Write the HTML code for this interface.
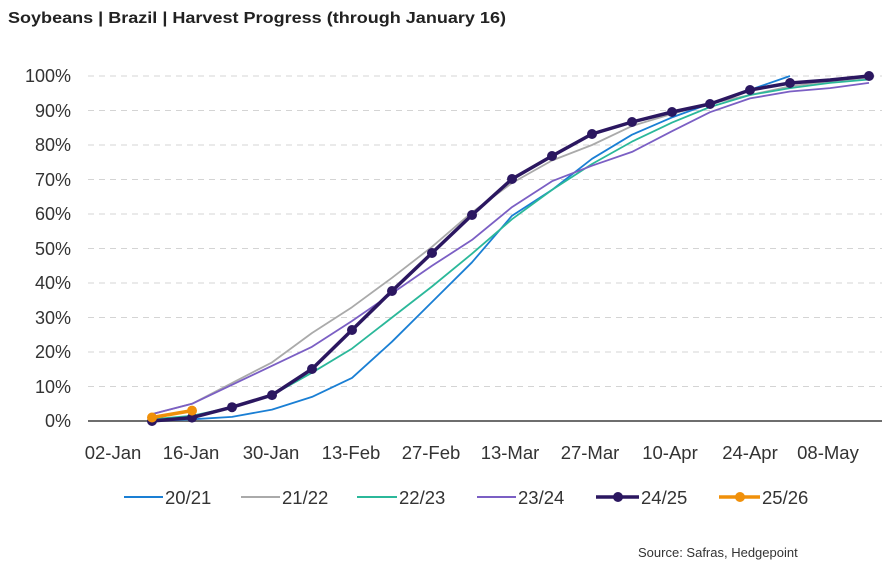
<!DOCTYPE html><html><head><style>body{margin:0;background:#fff}svg{display:block;font-family:"Liberation Sans",sans-serif}</style></head><body>
<svg width="882" height="572" viewBox="0 0 882 572">
<text x="8" y="23" font-size="15.5" font-weight="bold" fill="#222" textLength="498" lengthAdjust="spacingAndGlyphs">Soybeans | Brazil | Harvest Progress (through January 16)</text>
<g stroke="#d4d4d4" stroke-dasharray="6,5" stroke-width="1">
<line x1="88" x2="882" y1="76" y2="76"/><line x1="88" x2="882" y1="110.5" y2="110.5"/><line x1="88" x2="882" y1="145" y2="145"/><line x1="88" x2="882" y1="179.5" y2="179.5"/><line x1="88" x2="882" y1="214" y2="214"/><line x1="88" x2="882" y1="248.5" y2="248.5"/><line x1="88" x2="882" y1="283" y2="283"/><line x1="88" x2="882" y1="317.5" y2="317.5"/><line x1="88" x2="882" y1="352" y2="352"/><line x1="88" x2="882" y1="386.5" y2="386.5"/></g>
<line x1="88" x2="882" y1="421" y2="421" stroke="#6e6e6e" stroke-width="2"/>
<g font-size="18" fill="#333" text-anchor="end">
<text x="71" y="82">100%</text><text x="71" y="117">90%</text><text x="71" y="151">80%</text><text x="71" y="186">70%</text><text x="71" y="220">60%</text><text x="71" y="255">50%</text><text x="71" y="289">40%</text><text x="71" y="324">30%</text><text x="71" y="358">20%</text><text x="71" y="393">10%</text><text x="71" y="427">0%</text></g>
<g font-size="18.5" fill="#333" text-anchor="middle">
<text x="113" y="459">02-Jan</text><text x="191" y="459">16-Jan</text><text x="271" y="459">30-Jan</text><text x="351" y="459">13-Feb</text><text x="431" y="459">27-Feb</text><text x="510" y="459">13-Mar</text><text x="590" y="459">27-Mar</text><text x="670" y="459">10-Apr</text><text x="750" y="459">24-Apr</text><text x="828" y="459">08-May</text></g>
<g fill="none" stroke-linejoin="round">
<polyline stroke="#1a7fd4" stroke-width="1.8" points="152,421 192,419.3 232,416.9 272,409.6 312,396.9 352,377.9 392,341.7 432,302 472,262.3 512,215.7 552,189.9 592,158.8 632,134.7 672,117.4 710,103.6 750,89.9 790,76"/>
<polyline stroke="#aaaaaa" stroke-width="1.8" points="152,414.1 192,403.8 232,383 272,362.4 312,333 352,307.2 392,277.8 432,246.8 472,212.3 512,183 552,160.5 592,145 632,126 672,113.9 710,103.6 750,95 790,86.4 830,81.2 869,77.7"/>
<polyline stroke="#2bb89a" stroke-width="1.8" points="152,419.3 192,415.8 232,407.2 272,395.1 312,372.7 352,348.6 392,317.5 432,286.5 472,253.7 512,219.2 552,189.9 592,164 632,141.6 672,122.6 710,107 750,95 790,88.1 830,82.9 869,79.5"/>
<polyline stroke="#7b5fc4" stroke-width="1.8" points="152,414.1 192,403.8 232,384.8 272,365.8 312,346.8 352,321 392,293.4 432,265.8 472,239.9 512,207.1 552,181.2 592,165.7 632,151.9 672,131.2 710,112.2 750,98.4 790,91.5 830,88.1 869,82.9"/>
<polyline stroke="#2b1760" stroke-width="3.5" points="152,421 192,417.6 232,407.2 272,395.1 312,369 352,330 392,291 432,253 472,215 512,179 552,156 592,134 632,122 672,112 710,104 750,90 790,83 830,80 869,76"/>
<g fill="#2b1760"><circle cx="152" cy="421" r="5"/><circle cx="192" cy="417.6" r="5"/><circle cx="232" cy="407.2" r="5"/><circle cx="272" cy="395.1" r="5"/><circle cx="312" cy="369" r="5"/><circle cx="352" cy="330" r="5"/><circle cx="392" cy="291" r="5"/><circle cx="432" cy="253" r="5"/><circle cx="472" cy="215" r="5"/><circle cx="512" cy="179" r="5"/><circle cx="552" cy="156" r="5"/><circle cx="592" cy="134" r="5"/><circle cx="632" cy="122" r="5"/><circle cx="672" cy="112" r="5"/><circle cx="710" cy="104" r="5"/><circle cx="750" cy="90" r="5"/><circle cx="790" cy="83" r="5"/><circle cx="869" cy="76" r="5"/></g>
<polyline stroke="#f0900a" stroke-width="3.5" points="152,417.5 192,410.6"/>
<g fill="#f0900a"><circle cx="152" cy="417.5" r="5"/><circle cx="192" cy="410.6" r="5"/></g>
</g>
<g font-size="18.5" fill="#333">
<line x1="124" x2="163" y1="497" y2="497" stroke="#1a7fd4" stroke-width="2"/><text x="165" y="504">20/21</text>
<line x1="241" x2="280" y1="497" y2="497" stroke="#aaaaaa" stroke-width="2"/><text x="282" y="504">21/22</text>
<line x1="357" x2="397" y1="497" y2="497" stroke="#2bb89a" stroke-width="2"/><text x="399" y="504">22/23</text>
<line x1="477" x2="516" y1="497" y2="497" stroke="#7b5fc4" stroke-width="2"/><text x="518" y="504">23/24</text>
<line x1="596" x2="639" y1="497" y2="497" stroke="#2b1760" stroke-width="3.5"/><circle cx="618" cy="497" r="5" fill="#2b1760"/><text x="641" y="504">24/25</text>
<line x1="719" x2="760" y1="497" y2="497" stroke="#f0900a" stroke-width="3.5"/><circle cx="740" cy="497" r="5" fill="#f0900a"/><text x="762" y="504">25/26</text>
</g>
<text x="638" y="557" font-size="13" fill="#333">Source: Safras, Hedgepoint</text>
</svg></body></html>
